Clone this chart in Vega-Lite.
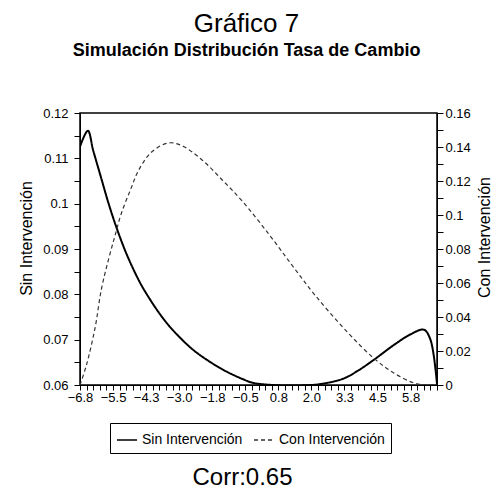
{
  "$schema": "https://vega.github.io/schema/vega-lite/v6.json",
  "autosize": "none",
  "padding": {"left": 80, "top": 113, "right": 67, "bottom": 104},
  "width": 357,
  "height": 272,
  "config": {
    "font": "Liberation Sans",
    "view": {"stroke": "black", "strokeWidth": 1.5},
    "axis": {"grid": false, "domainColor": "black", "tickColor": "black", "labelColor": "black", "titleColor": "black", "labelFont": "Liberation Sans", "titleFont": "Liberation Sans", "titleFontWeight": "normal"}
  },
  "title": {
    "text": "Gráfico 7",
    "subtitle": "Simulación Distribución Tasa de Cambio",
    "fontSize": 26,
    "fontWeight": "normal",
    "color": "black",
    "subtitleFontSize": 18,
    "subtitleFontWeight": "bold",
    "subtitleColor": "black",
    "subtitlePadding": 5,
    "anchor": "middle",
    "dx": -12,
    "offset": 47
  },
  "data": {
    "values": [
      {"x": -6.8, "series": "Sin Intervención", "value": 0.1126},
      {"x": -6.5, "series": "Sin Intervención", "value": 0.1161},
      {"x": -6.3, "series": "Sin Intervención", "value": 0.1118},
      {"x": -6.0, "series": "Sin Intervención", "value": 0.1058},
      {"x": -5.72, "series": "Sin Intervención", "value": 0.1002},
      {"x": -5.42, "series": "Sin Intervención", "value": 0.0949},
      {"x": -5.07, "series": "Sin Intervención", "value": 0.0895},
      {"x": -4.69, "series": "Sin Intervención", "value": 0.0846},
      {"x": -4.38, "series": "Sin Intervención", "value": 0.0812},
      {"x": -3.8, "series": "Sin Intervención", "value": 0.0760},
      {"x": -3.34, "series": "Sin Intervención", "value": 0.0726},
      {"x": -2.54, "series": "Sin Intervención", "value": 0.0680},
      {"x": -1.9, "series": "Sin Intervención", "value": 0.0653},
      {"x": -1.23, "series": "Sin Intervención", "value": 0.0630},
      {"x": -0.6, "series": "Sin Intervención", "value": 0.0613},
      {"x": -0.23, "series": "Sin Intervención", "value": 0.0605},
      {"x": 0.54, "series": "Sin Intervención", "value": 0.0600},
      {"x": 1.58, "series": "Sin Intervención", "value": 0.0599},
      {"x": 2.34, "series": "Sin Intervención", "value": 0.0602},
      {"x": 3.23, "series": "Sin Intervención", "value": 0.0614},
      {"x": 3.8, "series": "Sin Intervención", "value": 0.0632},
      {"x": 4.38, "series": "Sin Intervención", "value": 0.0655},
      {"x": 5.15, "series": "Sin Intervención", "value": 0.0688},
      {"x": 5.8, "series": "Sin Intervención", "value": 0.0712},
      {"x": 6.3, "series": "Sin Intervención", "value": 0.0722},
      {"x": 6.55, "series": "Sin Intervención", "value": 0.0700},
      {"x": 6.8, "series": "Sin Intervención", "value": 0.0602},
      {"x": -6.8, "series": "Con Intervención", "value": 0.0},
      {"x": -6.55, "series": "Con Intervención", "value": 0.012},
      {"x": -6.22, "series": "Con Intervención", "value": 0.0341},
      {"x": -5.99, "series": "Con Intervención", "value": 0.0560},
      {"x": -5.72, "series": "Con Intervención", "value": 0.0735},
      {"x": -5.46, "series": "Con Intervención", "value": 0.0882},
      {"x": -5.22, "series": "Con Intervención", "value": 0.1012},
      {"x": -4.88, "series": "Con Intervención", "value": 0.1147},
      {"x": -4.57, "series": "Con Intervención", "value": 0.1262},
      {"x": -4.07, "series": "Con Intervención", "value": 0.1371},
      {"x": -3.42, "series": "Con Intervención", "value": 0.1424},
      {"x": -2.92, "series": "Con Intervención", "value": 0.1408},
      {"x": -2.15, "series": "Con Intervención", "value": 0.1324},
      {"x": -1.38, "series": "Con Intervención", "value": 0.1206},
      {"x": -0.61, "series": "Con Intervención", "value": 0.1080},
      {"x": 0.42, "series": "Con Intervención", "value": 0.0882},
      {"x": 1.3, "series": "Con Intervención", "value": 0.0700},
      {"x": 2.15, "series": "Con Intervención", "value": 0.0529},
      {"x": 3.38, "series": "Con Intervención", "value": 0.0312},
      {"x": 4.38, "series": "Con Intervención", "value": 0.0159},
      {"x": 5.15, "series": "Con Intervención", "value": 0.0071},
      {"x": 5.92, "series": "Con Intervención", "value": 0.0012},
      {"x": 6.38, "series": "Con Intervención", "value": 0.0},
      {"x": 6.8, "series": "Con Intervención", "value": 0.0}
    ]
  },
  "encoding": {
    "x": {
      "field": "x",
      "type": "quantitative",
      "scale": {"domain": [-6.8, 6.8], "nice": false, "zero": false},
      "axis": {
        "values": [-6.8, -6.548, -6.296, -6.044, -5.793, -5.541, -5.289, -5.037, -4.785, -4.533, -4.281, -4.03, -3.778, -3.526, -3.274, -3.022, -2.77, -2.519, -2.267, -2.015, -1.763, -1.511, -1.259, -1.007, -0.756, -0.504, -0.252, 0, 0.252, 0.504, 0.756, 1.007, 1.259, 1.511, 1.763, 2.015, 2.267, 2.519, 2.77, 3.022, 3.274, 3.526, 3.778, 4.03, 4.281, 4.533, 4.785, 5.037, 5.289, 5.541, 5.793, 6.044, 6.296, 6.548, 6.8],
        "labelExpr": "round((datum.value + 6.8) / 0.251852) % 5 == 0 ? format(datum.value, '.1f') : ''",
        "labelFontSize": 13,
        "labelPadding": 1,
        "labelOverlap": false,
        "labelFlush": false,
        "tickSize": 5,
        "title": "Corr:0.65",
        "titleFontSize": 24,
        "titlePadding": 61,
        "titleX": 162
      }
    },
    "color": {
      "field": "series",
      "type": "nominal",
      "scale": {"domain": ["Sin Intervención", "Con Intervención"], "range": ["black", "#333333"]},
      "legend": {
        "orient": "none",
        "legendX": 30,
        "legendY": 310,
        "direction": "horizontal",
        "title": null,
        "strokeColor": "black",
        "padding": 6,
        "symbolType": "stroke",
        "symbolSize": 400,
        "symbolStrokeWidth": 1.5,
        "labelFontSize": 14,
        "labelColor": "black",
        "columnPadding": 8
      }
    },
    "strokeDash": {
      "field": "series",
      "type": "nominal",
      "scale": {"domain": ["Sin Intervención", "Con Intervención"], "range": [[1, 0], [4, 3]]},
      "legend": null
    }
  },
  "layer": [
    {
      "transform": [{"filter": "datum.series == 'Sin Intervención'"}],
      "mark": {"type": "line", "strokeWidth": 2, "interpolate": "catmull-rom", "clip": true},
      "encoding": {
        "y": {
          "field": "value",
          "type": "quantitative",
          "scale": {"domain": [0.06, 0.12], "nice": false, "zero": false},
          "axis": {
            "orient": "left",
            "values": [0.06, 0.065, 0.07, 0.075, 0.08, 0.085, 0.09, 0.095, 0.1, 0.105, 0.11, 0.115, 0.12],
            "labelExpr": "round(datum.value * 1000) % 10 == 0 ? format(datum.value, '~g') : ''",
            "labelFontSize": 13,
            "labelPadding": 6,
            "tickSize": 6,
            "title": "Sin Intervención",
            "titleFontSize": 16,
            "titlePadding": 8,
            "titleY": 125
          }
        }
      }
    },
    {
      "transform": [{"filter": "datum.series == 'Con Intervención'"}],
      "mark": {"type": "line", "strokeWidth": 1.2, "interpolate": "catmull-rom", "clip": true},
      "encoding": {
        "y": {
          "field": "value",
          "type": "quantitative",
          "scale": {"domain": [0, 0.16], "nice": false},
          "axis": {
            "orient": "right",
            "values": [0, 0.01, 0.02, 0.03, 0.04, 0.05, 0.06, 0.07, 0.08, 0.09, 0.1, 0.11, 0.12, 0.13, 0.14, 0.15, 0.16],
            "labelExpr": "round(datum.value * 100) % 2 == 0 ? format(datum.value, '~g') : ''",
            "labelFontSize": 13,
            "labelPadding": 2,
            "tickSize": 6,
            "title": "Con Intervención",
            "titleFontSize": 16,
            "titleAngle": 270,
            "titleBaseline": "top",
            "titlePadding": 6,
            "titleY": 124
          }
        }
      }
    }
  ],
  "resolve": {"scale": {"y": "independent"}, "axis": {"y": "independent"}}
}
